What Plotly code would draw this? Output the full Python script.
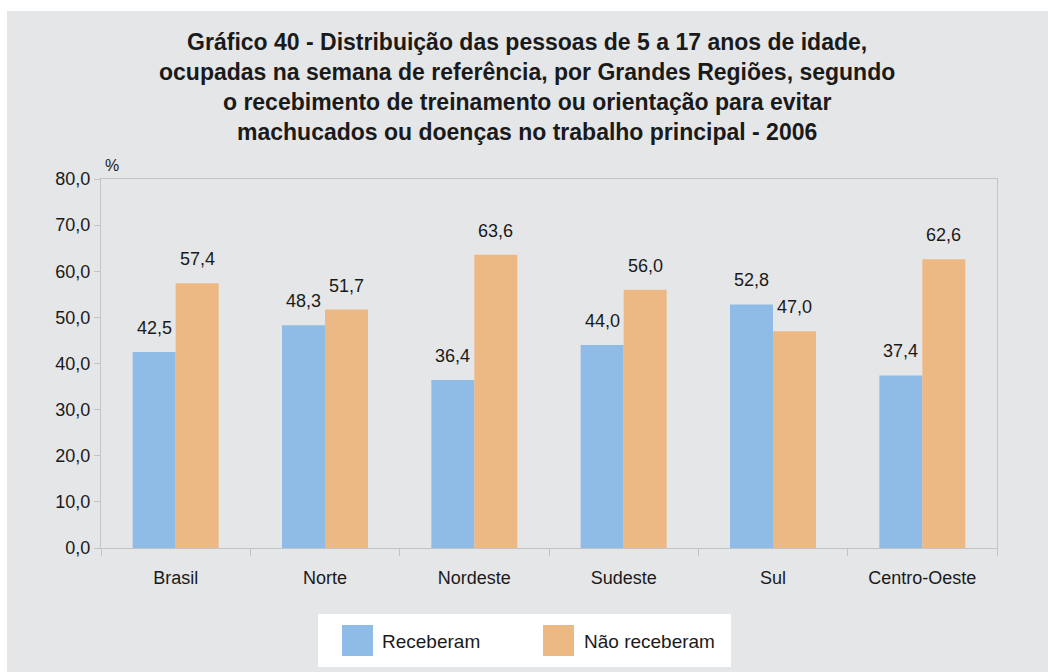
import plotly.graph_objects as go

# Regional distribution of working children/teens (5-17) by training received
regioes = ["Brasil", "Norte", "Nordeste", "Sudeste", "Sul", "Centro-Oeste"]
receberam = [42.5, 48.3, 36.4, 44.0, 52.8, 37.4]
nao_receberam = [57.4, 51.7, 63.6, 56.0, 47.0, 62.6]
series_names = ["Receberam", "Não receberam"]
y_ticks = [0, 10, 20, 30, 40, 50, 60, 70, 80]

title_lines = [
    "Gráfico 40 - Distribuição das pessoas de 5 a 17 anos de idade,",
    "ocupadas na semana de referência, por Grandes Regiões, segundo",
    "o recebimento de treinamento ou orientação para evitar",
    "machucados ou doenças no trabalho principal - 2006",
]

BLUE = "#8fbce6"
ORANGE = "#ecb985"
PANEL = "#e5e6e8"
AXIS = "#c3c4c6"
TEXT = "#1a1a1a"
FONT = "Liberation Sans, Arial, sans-serif"

W, H = 1048, 672
L, R, T, B = 101, 51, 179, 124
PW, PH = W - L - R, H - T - B


def px(x):
    return (x - L) / PW


def py(y):
    return (H - B - y) / PH


fig = go.Figure()
for name, vals, color in [(series_names[0], receberam, BLUE),
                          (series_names[1], nao_receberam, ORANGE)]:
    fig.add_trace(go.Bar(x=regioes, y=vals, name=name, marker_color=color,
                         marker_line_width=0, showlegend=False))

# value labels above each bar
bar_px = PW / len(regioes) * (1 - 0.424) / 2
for vals, sign in [(receberam, -1), (nao_receberam, 1)]:
    for reg, v in zip(regioes, vals):
        fig.add_annotation(x=reg, y=v, text=f"{v:.1f}".replace(".", ","),
                           showarrow=False, xshift=sign * bar_px / 2,
                           yanchor="bottom", yshift=12,
                           font=dict(size=18, color=TEXT, family=FONT))

shapes = [
    # grey panel behind everything, leaving a thin white margin top/left
    dict(type="rect", xref="paper", yref="paper", layer="below",
         x0=px(7), x1=px(W + 5), y0=py(H + 5), y1=py(11),
         fillcolor=PANEL, line_width=0),
    # legend box
    dict(type="rect", xref="paper", yref="paper",
         x0=px(318), x1=px(731), y0=py(667), y1=py(614),
         fillcolor="white", line_width=0),
    dict(type="rect", xref="paper", yref="paper",
         x0=px(342), x1=px(373), y0=py(656), y1=py(625),
         fillcolor=BLUE, line_width=0),
    dict(type="rect", xref="paper", yref="paper",
         x0=px(543), x1=px(574), y0=py(656), y1=py(625),
         fillcolor=ORANGE, line_width=0),
]

for txt, x0 in [(series_names[0], 380), (series_names[1], 582)]:
    fig.add_annotation(xref="paper", yref="paper", x=px(x0), y=py(641),
                       xanchor="left", yanchor="middle", text=txt,
                       showarrow=False,
                       font=dict(size=19, color=TEXT, family=FONT))

fig.add_annotation(xref="paper", yref="paper", x=px(112), y=py(165),
                   text="%", showarrow=False, xanchor="center",
                   yanchor="middle",
                   font=dict(size=16, color=TEXT, family=FONT))

fig.update_layout(
    width=W, height=H,
    margin=dict(l=L, r=R, t=T, b=B),
    paper_bgcolor="white",
    plot_bgcolor="white",
    separators=",.",
    barmode="group",
    bargap=0.424,
    bargroupgap=0,
    shapes=shapes,
    title=dict(text="<br>".join(title_lines), xref="container",
               x=0.503, xanchor="center", yref="container",
               y=1 - 50 / H, yanchor="top",
               font=dict(size=23, color=TEXT, family=FONT,
                         weight="bold")),
    font=dict(family=FONT, color=TEXT),
)

fig.update_xaxes(showline=True, linecolor=AXIS, linewidth=1, mirror=True,
                 ticks="outside", tickson="boundaries", ticklen=7,
                 tickcolor=AXIS, tickfont=dict(size=18, color=TEXT),
                 ticklabelstandoff=13, showgrid=False)
fig.update_yaxes(range=[0, 80], tickvals=y_ticks, tickformat=".1f",
                 showline=True, linecolor=AXIS, linewidth=1, mirror=True,
                 ticks="outside", ticklen=6, tickcolor=AXIS,
                 tickfont=dict(size=18, color=TEXT),
                 showgrid=False, zeroline=False)

fig.write_html("out.html")
